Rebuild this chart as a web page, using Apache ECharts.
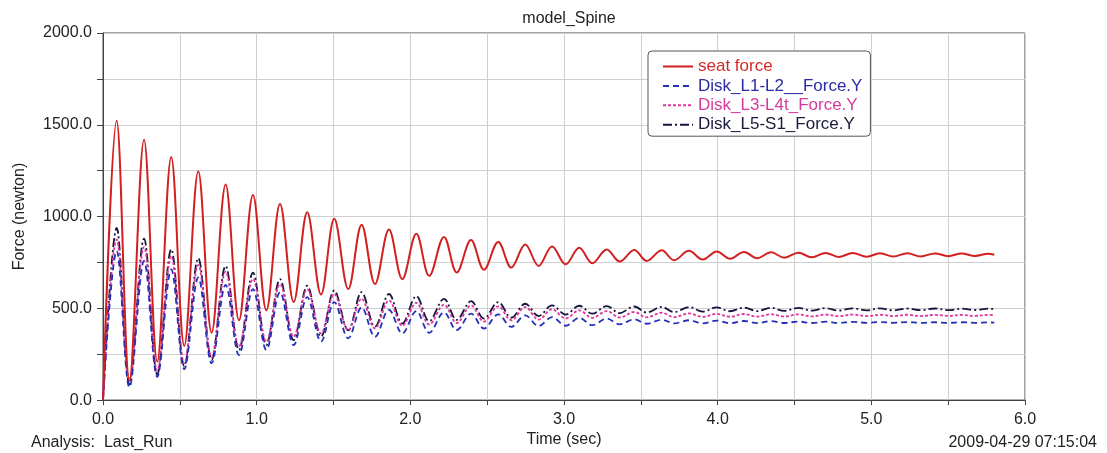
<!DOCTYPE html>
<html>
<head>
<meta charset="utf-8">
<script src="https://cdn.jsdelivr.net/npm/echarts@6/dist/echarts.min.js"></script>
<style>
html,body{margin:0;padding:0;background:#fff;}
#chart{width:1107px;height:453px;}
</style>
</head>
<body>
<div id="chart"></div>
<script>
// Time (sec) of each peak and trough
var peakTimes = [0.089,0.267,0.444,0.620,0.798,0.976,1.152,1.329,1.505,1.683,1.861,2.039,2.219,2.395,2.572,2.748,2.922,3.099,3.278,3.457,3.636,3.813,3.994,4.171,4.347,4.525,4.703,4.879,5.056,5.234,5.414,5.588,5.761];
var troughTimes = [0.172,0.353,0.529,0.707,0.885,1.063,1.241,1.419,1.596,1.770,1.948,2.123,2.302,2.479,2.657,2.835,3.011,3.184,3.362,3.538,3.716,3.903,4.080,4.258,4.434,4.612,4.787,4.970,5.143,5.321,5.501,5.675];
var startTime = 0.0;
var endTime = 5.80;

// Force (newton) values
var seatPeaks = [1522,1419,1325,1247,1175,1118,1068,1023,988,956,929,906,889,872,861,848,837,830,821,818,816,813,810,807,805,803,802,801,800,800,799,799,798];
var seatTroughs = [105,210,295,367,435,489,534,575,605,632,659,677,695,710,722,731,740,746,755,758,762,766,770,773,776,778,780,781,782,783,784,785];
var seatStartEnd = [0, 792];

var l1l2Peaks = [812,758,712,668,628,605,588,561,534,505,492,485,478,471,467,462,452,448,444,440,438,435,433,431,430,428,427,426,425,425,424,424,423];
var l1l2Troughs = [70,126,169,201,246,273,300,318,336,345,363,367,381,390,399,403,405,408,413,416,418,418,419,419,420,420,420,421,421,421,421,421];
var l1l2StartEnd = [0, 422];

var l3l4Peaks = [875,835,785,736,700,660,632,605,578,552,543,530,520,516,511,507,495,489,485,480,476,472,470,469,468,467,466,466,465,465,464,464,464];
var l3l4Troughs = [110,160,200,235,291,318,345,363,381,390,405,412,420,428,435,438,445,448,450,451,452,453,454,455,455,456,457,457,458,458,459,459];
var l3l4StartEnd = [0, 462];

var l5s1Peaks = [938,880,821,773,731,695,659,623,597,588,578,566,552,539,534,525,516,514,512,510,508,507,505,504,503,502,501,500,500,499,499,498,498];
var l5s1Troughs = [85,140,185,219,273,300,327,345,380,400,417,430,437,444,449,458,466,471,474,477,479,482,484,485,486,487,488,489,489,490,490,491];
var l5s1StartEnd = [0, 496];

var seriesNames = ['seat force','Disk_L1-L2__Force.Y','Disk_L3-L4t_Force.Y','Disk_L5-S1_Force.Y'];
var xTickLabels = ['0.0','1.0','2.0','3.0','4.0','5.0','6.0'];
var yTickLabels = ['0.0','500.0','1000.0','1500.0','2000.0'];

function buildPoints(peaks, troughs, startEnd) {
  var pts = [[startTime, startEnd[0]]];
  for (var i = 0; i < peakTimes.length; i++) {
    pts.push([peakTimes[i], peaks[i]]);
    if (i < troughTimes.length) pts.push([troughTimes[i], troughs[i]]);
  }
  pts.push([endTime, startEnd[1]]);
  return pts;
}

var colors = ['#d21f1f','#2231b8','#e0359e','#15153d'];
var textColors = ['#d42a2a','#2a2aa6','#d63a9c','#1a1a3c'];
var dashTypes = ['solid',[6,4],[3,2],[9,3,2,3]];
var widths = [2, 1.8, 1.8, 1.8];
var dataSets = [
  buildPoints(seatPeaks, seatTroughs, seatStartEnd),
  buildPoints(l1l2Peaks, l1l2Troughs, l1l2StartEnd),
  buildPoints(l3l4Peaks, l3l4Troughs, l3l4StartEnd),
  buildPoints(l5s1Peaks, l5s1Troughs, l5s1StartEnd)
];

var FONT = 'Liberation Sans, Arial, sans-serif';
var chart = echarts.init(document.getElementById('chart'), null, {renderer: 'canvas'});
var series = [];
for (var s = 0; s < 4; s++) {
  series.push({
    name: seriesNames[s],
    type: 'line',
    data: dataSets[s],
    symbol: 'none',
    smooth: 0.36,
    lineStyle: {color: colors[s], width: widths[s], type: dashTypes[s]},
    itemStyle: {color: colors[s]},
    z: 10 - s
  });
}

chart.setOption({
  animation: false,
  backgroundColor: '#ffffff',
  title: [
    {text: 'model_Spine', left: 564, top: 6, textAlign: 'center',
     textStyle: {fontFamily: FONT, fontSize: 16, fontWeight: 'normal', color: '#222'}},
    {text: 'Analysis:  Last_Run', left: 26, top: 430,
     textStyle: {fontFamily: FONT, fontSize: 16, fontWeight: 'normal', color: '#222'}},
    {text: '2009-04-29 07:15:04', right: 5, top: 430,
     textStyle: {fontFamily: FONT, fontSize: 16, fontWeight: 'normal', color: '#222'}}
  ],
  legend: {
    orient: 'vertical',
    left: 648,
    top: 51,
    itemWidth: 30,
    itemHeight: 14,
    itemGap: 2.4,
    padding: [7, 8, 3, 14],
    backgroundColor: '#ffffff',
    borderColor: '#555',
    borderWidth: 1,
    borderRadius: 4,
    itemStyle: {color: 'rgba(0,0,0,0)', borderWidth: 0, opacity: 0},
    textStyle: {fontFamily: FONT, fontSize: 17, lineHeight: 17},
    data: seriesNames.map(function (n, i) {
      return {name: n, textStyle: {color: textColors[i]}};
    })
  },
  grid: {
    left: 103, right: 82, top: 33, bottom: 49,
    show: true, borderColor: '#444', borderWidth: 1, backgroundColor: 'transparent'
  },
  xAxis: {
    type: 'value',
    min: 0, max: 6, interval: 1,
    name: 'Time (sec)',
    nameLocation: 'middle',
    nameGap: 29,
    nameTextStyle: {fontFamily: FONT, fontSize: 16, color: '#222'},
    axisLine: {show: true, lineStyle: {color: '#444', width: 1}},
    axisTick: {show: true, inside: false, length: 5, lineStyle: {color: '#444'}},
    minorTick: {show: true, splitNumber: 2, length: 5, lineStyle: {color: '#444'}},
    splitLine: {show: true, lineStyle: {color: '#cfcfcf', width: 1}},
    minorSplitLine: {show: true, lineStyle: {color: '#cfcfcf', width: 1}},
    axisLabel: {
      fontFamily: FONT, fontSize: 16, color: '#222', margin: 11,
      formatter: function (v) { return xTickLabels[Math.round(v)]; }
    }
  },
  yAxis: {
    type: 'value',
    min: 0, max: 2000, interval: 500,
    name: 'Force (newton)',
    nameLocation: 'middle',
    nameGap: 75,
    nameRotate: 90,
    nameTextStyle: {fontFamily: FONT, fontSize: 16, color: '#222'},
    axisLine: {show: true, lineStyle: {color: '#444', width: 1}},
    axisTick: {show: true, inside: false, length: 6, lineStyle: {color: '#444'}},
    minorTick: {show: true, splitNumber: 2, length: 6, lineStyle: {color: '#444'}},
    splitLine: {show: true, lineStyle: {color: '#cfcfcf', width: 1}},
    minorSplitLine: {show: true, lineStyle: {color: '#cfcfcf', width: 1}},
    axisLabel: {
      fontFamily: FONT, fontSize: 16, color: '#222', margin: 11,
      formatter: function (v) { return yTickLabels[Math.round(v / 500)]; }
    }
  },
  series: series
});
</script>
</body>
</html>
